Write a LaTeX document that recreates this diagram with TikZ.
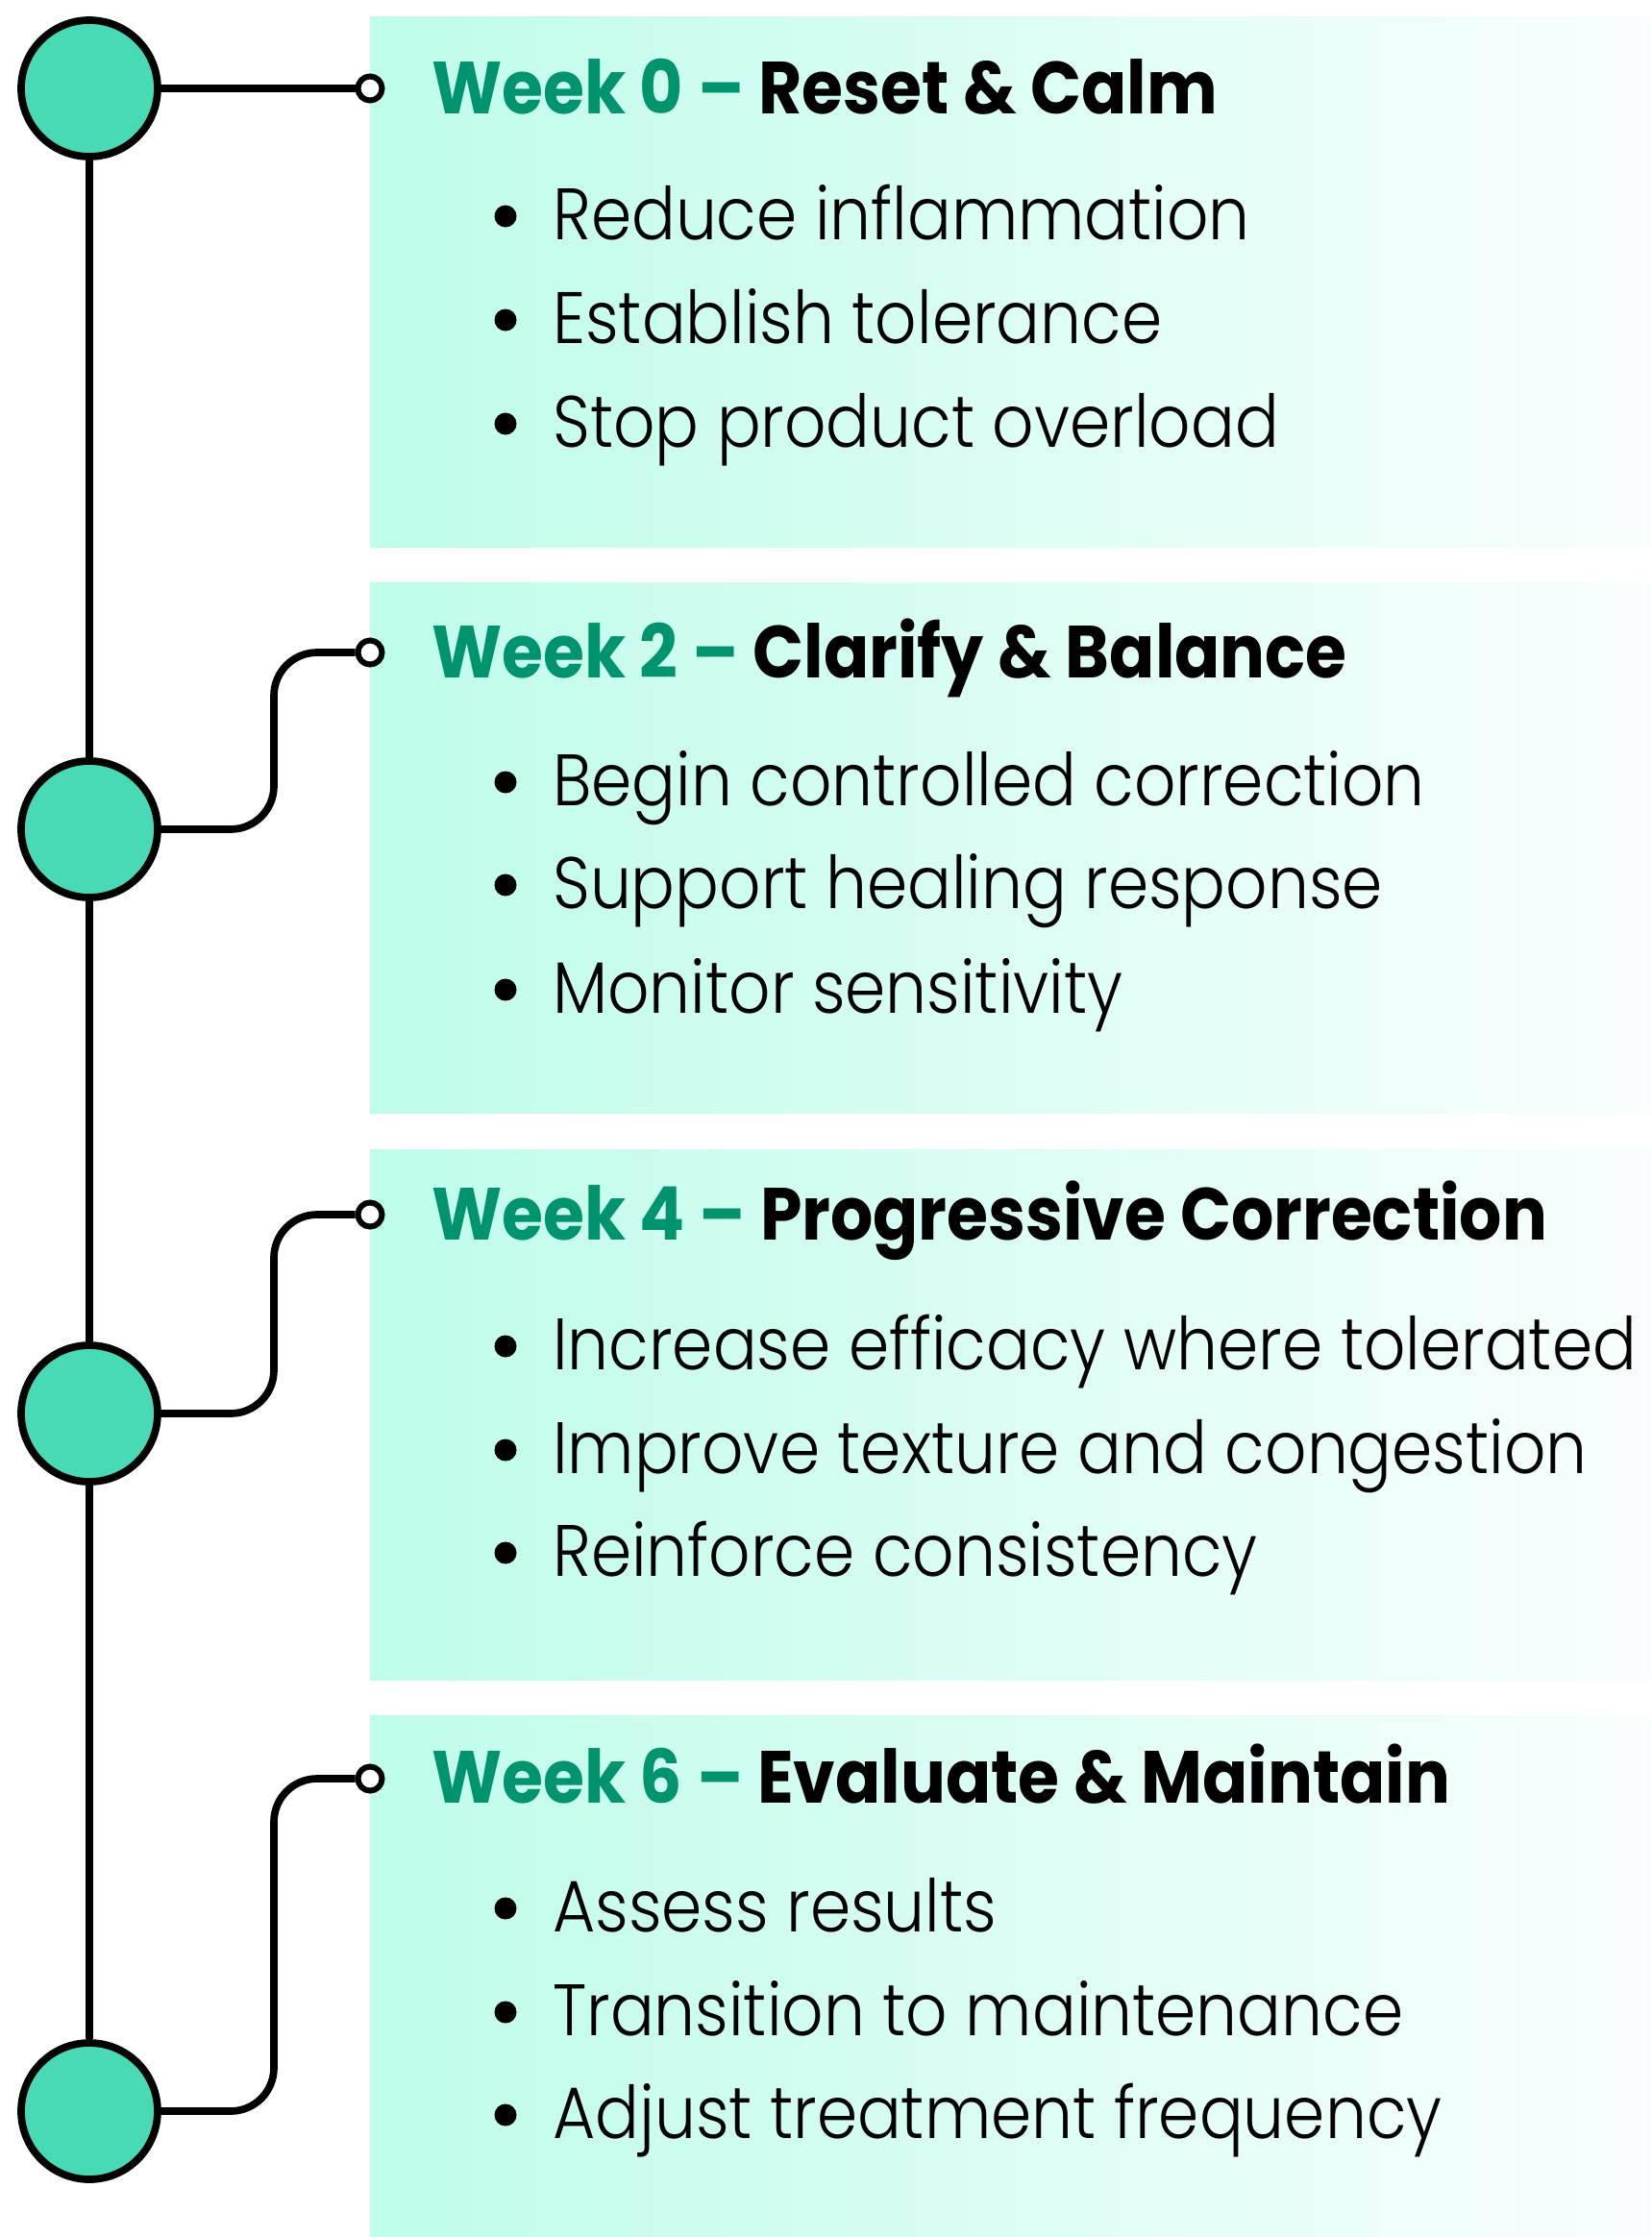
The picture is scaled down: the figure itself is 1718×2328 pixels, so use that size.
\documentclass[tikz,border=0pt]{standalone}
\usepackage{fontspec}
\IfFontExistsTF{Poppins Light}{\def\bodyname{Poppins Light}}{\def\bodyname{Poppins}}
\newfontfamily\pmeas{Poppins}
\newfontfamily\pmeasl{\bodyname}
\newlength\mylen
\setbox0\hbox{\pmeasl\fontsize{100pt}{100pt}\selectfont H}
\mylen=\ht0
\pgfmathsetmacro\bodysize{5300/\mylen}
\setbox0\hbox{\pmeas\bfseries\fontsize{100pt}{100pt}\selectfont H}
\mylen=\ht0
\pgfmathsetmacro\headsize{5400/\mylen}
\setbox0\hbox{\pmeasl\fontsize{\bodysize pt}{\bodysize pt}\selectfont Increase efficacy where tolerated}
\mylen=\wd0
\pgfmathsetmacro\bodystretch{1128/\mylen}
\setbox0\hbox{\pmeas\bfseries\fontsize{\headsize pt}{\headsize pt}\selectfont Week 4 – Progressive Correction}
\mylen=\wd0
\pgfmathsetmacro\headstretch{1161/\mylen}
\edef\tmp{\noexpand\newfontfamily\noexpand\bodyfont[FakeStretch=\bodystretch]{\bodyname}}\tmp
\edef\tmp{\noexpand\newfontfamily\noexpand\headfont[FakeStretch=\headstretch]{Poppins}}\tmp
\definecolor{mint}{RGB}{72,217,181}
\definecolor{wkgreen}{RGB}{0,148,110}
\definecolor{boxL}{RGB}{190,253,235}
\definecolor{boxR}{RGB}{249,254,255}
\begin{document}
\begin{tikzpicture}[x=1pt,y=-1pt,
  dot/.style={circle,draw=black,line width=7.7pt,fill=mint,minimum size=142pt,inner sep=0pt},
  endpt/.style={circle,draw=black,line width=6pt,fill=white,minimum size=25pt,inner sep=0pt},
  conn/.style={line width=7.7pt,draw=black},
  elbow/.style={conn,rounded corners=45pt},
  panel/.style={inner sep=0pt,minimum width=1333pt,minimum height=552pt,anchor=north west,left color=boxL,right color=boxR,draw=none},
  head/.style={anchor=base west,inner sep=0pt,font=\headfont\bfseries\fontsize{\headsize pt}{\headsize pt}\selectfont},
  item/.style={anchor=base west,inner sep=0pt,font=\bodyfont\fontsize{\bodysize pt}{\bodysize pt}\selectfont},
  bul/.style={circle,fill=black,draw=none,minimum size=23pt,inner sep=0pt}]
\useasboundingbox (0,0) rectangle (1718,2328);
% panels
\node[panel] (p0) at (385,17) {};
\node[panel] (p1) at (385,606) {};
\node[panel] (p2) at (385,1196) {};
\node[panel,minimum height=543pt] (p3) at (385,1785) {};
% timeline circles
\node[dot] (c0) at (93,92) {};
\node[dot] (c1) at (93,863) {};
\node[dot] (c2) at (93,1471) {};
\node[dot] (c3) at (93,2197) {};
\draw[conn] (c0) -- (c1);
\draw[conn] (c1) -- (c2);
\draw[conn] (c2) -- (c3);
% end points
\node[endpt] (e0) at (385,92) {};
\node[endpt] (e1) at (385,679) {};
\node[endpt] (e2) at (385,1264) {};
\node[endpt] (e3) at (385,1851) {};
\coordinate (j1) at (285,863);
\coordinate (j2) at (285,1471);
\coordinate (j3) at (285,2197);
\draw[conn] (c0) -- (e0);
\draw[elbow] (c1.east) -- (j1) |- (e1.west);
\draw[elbow] (c2.east) -- (j2) |- (e2.west);
\draw[elbow] (c3.east) -- (j3) |- (e3.west);
% headings
\node[head] (h0) at (449,119) {\textcolor{wkgreen}{Week 0 –} Reset \& Calm};
\node[head] (h1) at (449,705) {\textcolor{wkgreen}{Week 2 –} Clarify \& Balance};
\node[head] (h2) at (449,1290) {\textcolor{wkgreen}{Week 4 –} Progressive Correction};
\node[head] (h3) at (449,1876) {\textcolor{wkgreen}{Week 6 –} Evaluate \& Maintain};
% bullets and items
\node[bul] (b00) at (526,225) {};  \node[item] (t00) at (575,249) {Reduce inflammation};
\node[bul] (b01) at (526,333) {};  \node[item] (t01) at (575,357) {Establish tolerance};
\node[bul] (b02) at (526,441) {};  \node[item] (t02) at (575,465) {Stop product overload};
\node[bul] (b10) at (526,814) {};  \node[item] (t10) at (575,838) {Begin controlled correction};
\node[bul] (b11) at (526,921) {};  \node[item] (t11) at (575,945) {Support healing response};
\node[bul] (b12) at (526,1030) {}; \node[item] (t12) at (575,1054) {Monitor sensitivity};
\node[bul] (b20) at (526,1401) {}; \node[item] (t20) at (575,1425) {Increase efficacy where tolerated};
\node[bul] (b21) at (526,1509) {}; \node[item] (t21) at (575,1533) {Improve texture and congestion};
\node[bul] (b22) at (526,1616) {}; \node[item] (t22) at (575,1640) {Reinforce consistency};
\node[bul] (b30) at (526,1986) {}; \node[item] (t30) at (575,2010) {Assess results};
\node[bul] (b31) at (526,2094) {}; \node[item] (t31) at (575,2118) {Transition to maintenance};
\node[bul] (b32) at (526,2201) {}; \node[item] (t32) at (575,2225) {Adjust treatment frequency};
\end{tikzpicture}
\end{document}
